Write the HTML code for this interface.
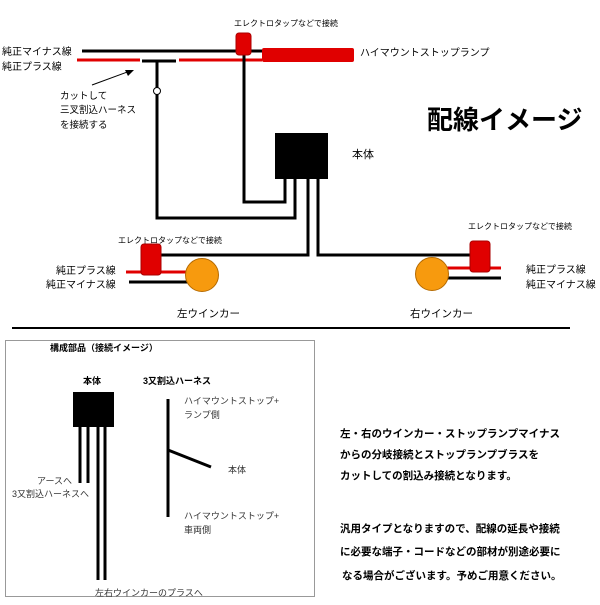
<!DOCTYPE html>
<html><head><meta charset="utf-8"><style>
html,body{margin:0;padding:0;background:#fff;}
svg text{font-family:"Liberation Sans","Noto Sans CJK JP",sans-serif;}
</style></head><body>
<svg width="600" height="600" viewBox="0 0 600 600" xmlns="http://www.w3.org/2000/svg">
<rect width="600" height="600" fill="#fff"/>
<g stroke-linecap="butt" fill="none">
<line x1="82" y1="51" x2="262" y2="51" stroke="#000" stroke-width="3"/>
<line x1="77" y1="60" x2="140" y2="60" stroke="#e00000" stroke-width="3"/>
<line x1="142" y1="61" x2="176" y2="61" stroke="#000" stroke-width="3"/>
<line x1="179" y1="60" x2="262" y2="60" stroke="#e00000" stroke-width="3"/>
<polyline points="244,50 244,202 285,202 285,178" stroke="#000" stroke-width="3"/>
<polyline points="157,61 157,218 295,218 295,178" stroke="#000" stroke-width="3"/>
<polyline points="308,178 308,255 161,255" stroke="#000" stroke-width="3"/>
<polyline points="318,178 318,255 471,255" stroke="#000" stroke-width="3"/>
<line x1="126" y1="272" x2="190" y2="272" stroke="#e00000" stroke-width="3"/>
<line x1="129" y1="282" x2="190" y2="282" stroke="#000" stroke-width="3"/>
<line x1="445" y1="268" x2="501" y2="268" stroke="#e00000" stroke-width="3"/>
<line x1="445" y1="278" x2="501" y2="278" stroke="#000" stroke-width="3"/>
<line x1="92" y1="85" x2="130" y2="71" stroke="#000" stroke-width="1"/>
<line x1="12" y1="328" x2="570" y2="328" stroke="#000" stroke-width="2"/>
</g>
<polygon points="134,70 125,70 128,76" fill="#000"/>
<circle cx="157" cy="91" r="3.5" fill="#fff" stroke="#000" stroke-width="1"/>
<rect x="236" y="33" width="15" height="22" rx="3" fill="#e00000" stroke="#a00" stroke-width="1"/>
<rect x="262" y="48" width="92" height="14" rx="2" fill="#e00000"/>
<rect x="141" y="244" width="20" height="31" rx="3" fill="#e00000" stroke="#a00" stroke-width="1"/>
<rect x="470" y="241" width="20" height="31" rx="3" fill="#e00000" stroke="#a00" stroke-width="1"/>
<circle cx="202" cy="275" r="16.5" fill="#f79a0e" stroke="#b56a00" stroke-width="1"/>
<circle cx="432" cy="274" r="16.5" fill="#f79a0e" stroke="#b56a00" stroke-width="1"/>
<rect x="275" y="133" width="53" height="46" fill="#000"/>
<g font-size="10" fill="#000">
<text x="234" y="26" font-size="8">エレクトロタップなどで接続</text>
<text x="360" y="56">ハイマウントストップランプ</text>
<text x="2" y="55">純正マイナス線</text>
<text x="2" y="70">純正プラス線</text>
<text x="60" y="99" font-size="9.5">カットして</text>
<text x="60" y="113" font-size="9.5">三叉割込ハーネス</text>
<text x="60" y="128" font-size="9.5">を接続する</text>
<text x="352" y="158" font-size="11">本体</text>
<text x="118" y="243" font-size="8">エレクトロタップなどで接続</text>
<text x="468" y="229" font-size="8">エレクトロタップなどで接続</text>
<text x="56" y="274">純正プラス線</text>
<text x="46" y="288">純正マイナス線</text>
<text x="526" y="273">純正プラス線</text>
<text x="526" y="288">純正マイナス線</text>
<text x="177" y="317" font-size="10.5">左ウインカー</text>
<text x="410" y="317" font-size="10.5">右ウインカー</text>
</g>
<text x="427" y="129" font-size="26" font-weight="bold" fill="#000">配線イメージ</text>
<rect x="5.5" y="340.5" width="309" height="256" fill="#fff" stroke="#999" stroke-width="1"/>
<rect x="73" y="392" width="41" height="35" fill="#000"/>
<g stroke="#000" stroke-width="3">
<line x1="80" y1="427" x2="80" y2="483"/>
<line x1="88" y1="427" x2="88" y2="483"/>
<line x1="98" y1="427" x2="98" y2="580"/>
<line x1="105" y1="427" x2="105" y2="580"/>
<line x1="168" y1="399" x2="168" y2="517"/>
<line x1="168" y1="450" x2="211" y2="467"/>
</g>
<g font-size="9" fill="#000">
<text x="50" y="351" font-weight="bold">構成部品（接続イメージ）</text>
<text x="83" y="384" font-weight="bold">本体</text>
<text x="143" y="384" font-weight="bold">3又割込ハーネス</text>
<text x="184" y="404" fill="#333">ハイマウントストップ+</text>
<text x="184" y="418" fill="#333">ランプ側</text>
<text x="228" y="473" fill="#333">本体</text>
<text x="184" y="519" fill="#333">ハイマウントストップ+</text>
<text x="184" y="533" fill="#333">車両側</text>
<text x="37" y="484" fill="#333">アースへ</text>
<text x="12" y="497" fill="#333">3又割込ハーネスへ</text>
<text x="95" y="596" fill="#333">左右ウインカーのプラスへ</text>
</g>
<g font-size="10.5" font-weight="bold" fill="#000">
<text x="340" y="437">左・右のウインカー・ストップランプマイナス</text>
<text x="340" y="458">からの分岐接続とストップランプブラスを</text>
<text x="340" y="479">カットしての割込み接続となります。</text>
<text x="340" y="532">汎用タイプとなりますので、配線の延長や接続</text>
<text x="340" y="555">に必要な端子・コードなどの部材が別途必要に</text>
<text x="342" y="579">なる場合がございます。予めご用意ください。</text>
</g>
</svg>
</body></html>
